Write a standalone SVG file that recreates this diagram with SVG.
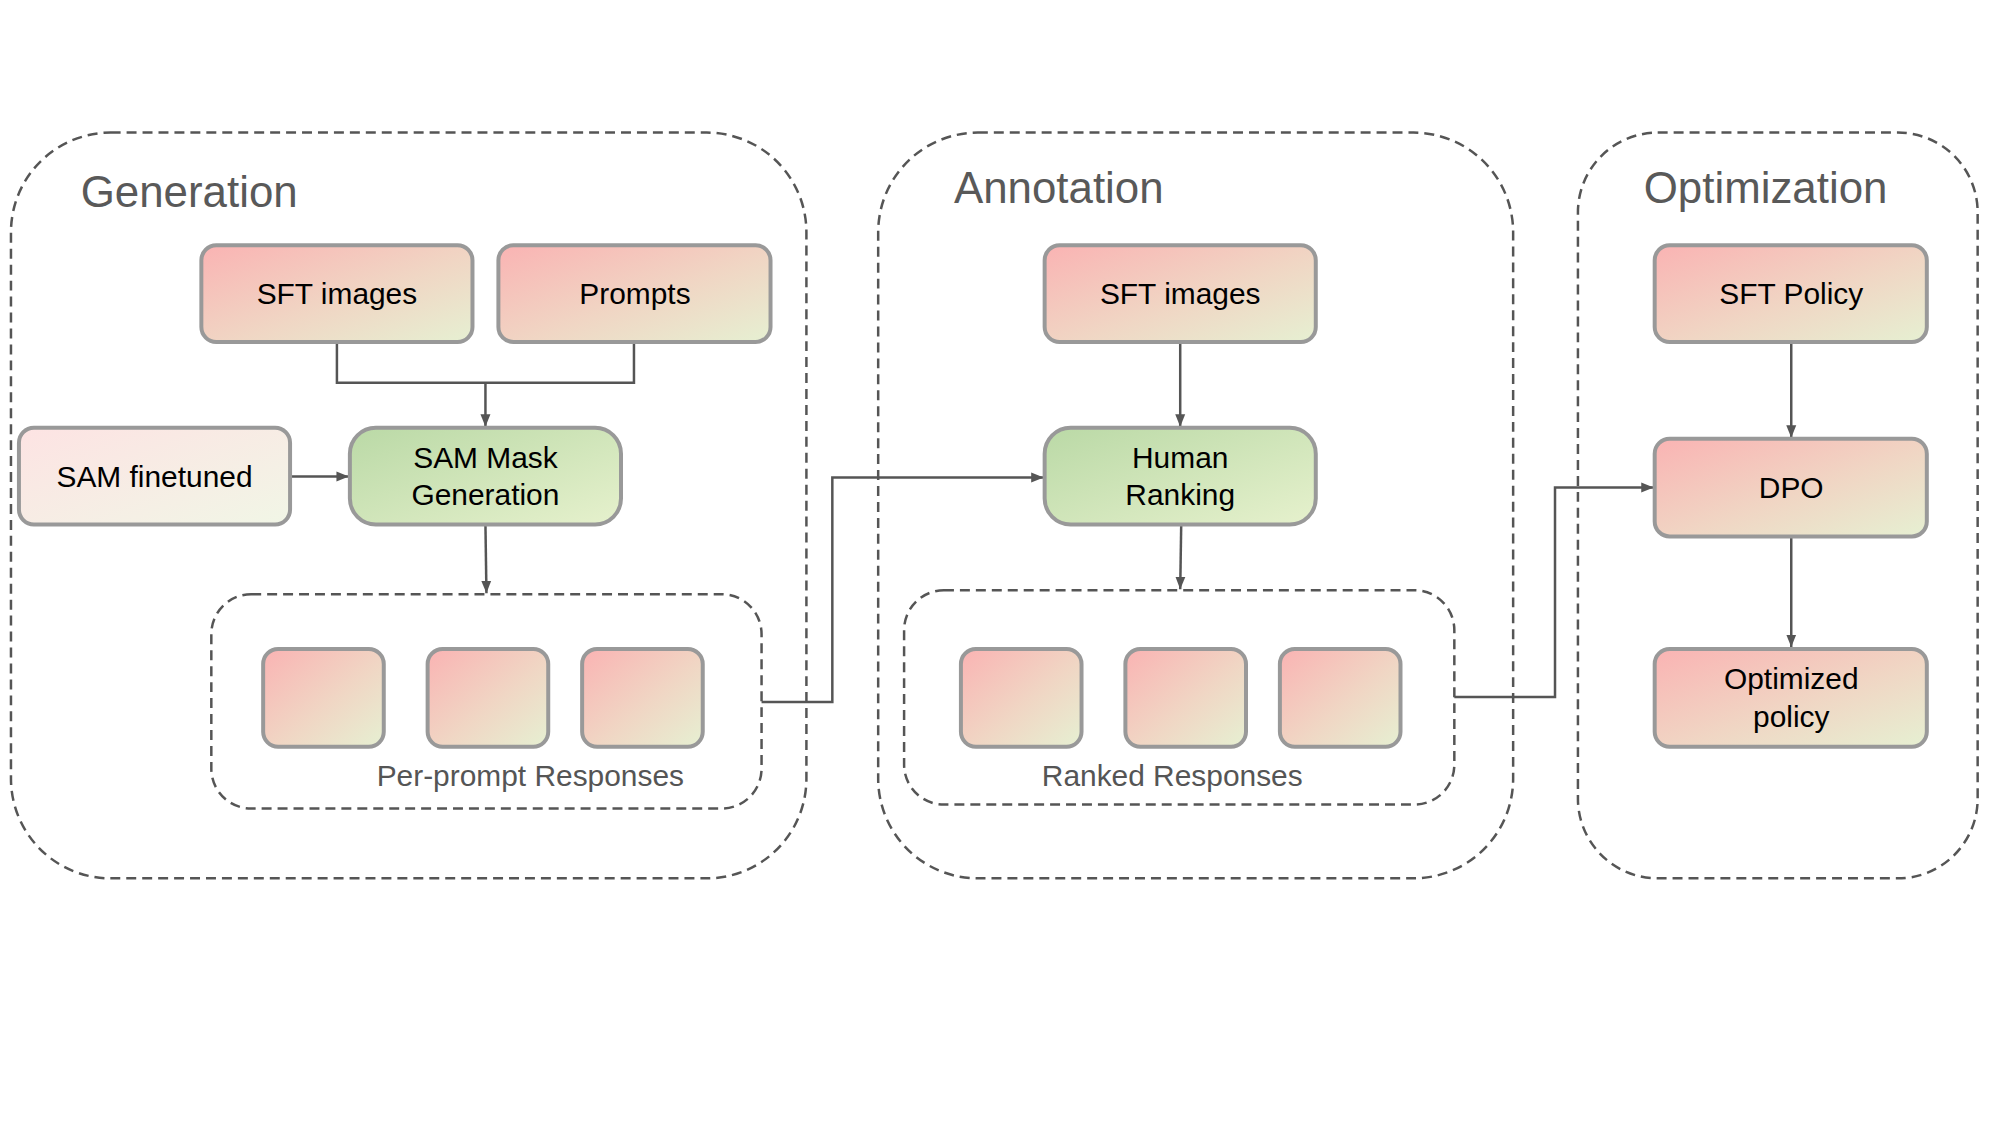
<svg xmlns="http://www.w3.org/2000/svg" width="2000" height="1125" viewBox="0 0 2000 1125">
<defs>
<linearGradient id="gPink" x1="0" y1="0" x2="1" y2="1">
<stop offset="0" stop-color="#FAB3B3"/><stop offset="0.55" stop-color="#F0D6C4"/><stop offset="1" stop-color="#E6F0D2"/>
</linearGradient>
<linearGradient id="gLight" x1="0" y1="0" x2="1" y2="1">
<stop offset="0" stop-color="#FDE3E3"/><stop offset="1" stop-color="#F1F6E6"/>
</linearGradient>
<linearGradient id="gGreen" x1="0" y1="0" x2="1" y2="1">
<stop offset="0" stop-color="#BAD9A6"/><stop offset="1" stop-color="#E6F1CD"/>
</linearGradient>
<marker id="arr" viewBox="0 0 10 10" refX="10" refY="5" markerWidth="5" markerHeight="5" orient="auto" markerUnits="strokeWidth">
<path d="M0,1 L10,5 L0,9 z" fill="#555"/>
</marker>
<style>
.grp{fill:none;stroke:#555;stroke-width:2.5;stroke-dasharray:10 6}
.node{stroke:#999;stroke-width:4}
.pink{fill:url(#gPink)}
.light{fill:url(#gLight)}
.green{fill:url(#gGreen)}
.lbl{font-family:"Liberation Sans",Arial,sans-serif;font-size:30px;fill:#000;text-anchor:middle}
.sub{font-family:"Liberation Sans",Arial,sans-serif;font-size:30px;fill:#555;text-anchor:middle}
.title{font-family:"Liberation Sans",Arial,sans-serif;font-size:44px;fill:#595959}
.edge{fill:none;stroke:#555;stroke-width:2.5}
</style>
</defs>
<rect width="2000" height="1125" fill="#fff"/>
<g transform="scale(0.9968 0.997)">
<g id="generation">
<rect class="grp" x="11" y="133" width="798" height="748" rx="100" ry="100"/>
<text class="title" x="81" y="208">Generation</text>
</g>
<g id="annotation">
<rect class="grp" x="881" y="133" width="637" height="748" rx="100" ry="100"/>
<text class="title" x="957" y="204">Annotation</text>
</g>
<g id="optimization">
<rect class="grp" x="1583" y="133" width="401" height="748" rx="80" ry="80"/>
<text class="title" x="1649" y="204">Optimization</text>
</g>

<g id="per-prompt-responses">
<rect class="grp" x="212" y="596" width="552" height="215" rx="40" ry="40"/>
<rect class="node pink" x="264" y="651" width="121" height="98" rx="15"/>
<rect class="node pink" x="429" y="651" width="121" height="98" rx="15"/>
<rect class="node pink" x="584" y="651" width="121" height="98" rx="15"/>
<text class="sub" x="532" y="788">Per-prompt Responses</text>
</g>
<g id="ranked-responses">
<rect class="grp" x="907" y="592" width="552" height="215" rx="40" ry="40"/>
<rect class="node pink" x="964" y="651" width="121" height="98" rx="15"/>
<rect class="node pink" x="1129" y="651" width="121" height="98" rx="15"/>
<rect class="node pink" x="1284" y="651" width="121" height="98" rx="15"/>
<text class="sub" x="1176" y="788">Ranked Responses</text>
</g>

<g id="connectors">
<path class="edge" d="M338,343 V384 H636 V343"/>
<path class="edge" d="M487,384 V428" marker-end="url(#arr)"/>
<path class="edge" d="M291,478 H350" marker-end="url(#arr)"/>
<path class="edge" d="M487,526 L488,595" marker-end="url(#arr)"/>
<path class="edge" d="M764,704 H835 V479 H1047" marker-end="url(#arr)"/>
<path class="edge" d="M1184,343 V428" marker-end="url(#arr)"/>
<path class="edge" d="M1185,526 L1184,591" marker-end="url(#arr)"/>
<path class="edge" d="M1459,699 H1560 V489 H1659" marker-end="url(#arr)"/>
<path class="edge" d="M1797,343 V439" marker-end="url(#arr)"/>
<path class="edge" d="M1797,538 V649" marker-end="url(#arr)"/>
</g>

<g id="gen-sft-images">
<rect class="node pink" x="202" y="246" width="272" height="97" rx="15"/>
<text class="lbl" x="338" y="305">SFT images</text>
</g>
<g id="prompts">
<rect class="node pink" x="500" y="246" width="273" height="97" rx="15"/>
<text class="lbl" x="637" y="305">Prompts</text>
</g>
<g id="sam-finetuned">
<rect class="node light" x="19" y="429" width="272" height="97" rx="15"/>
<text class="lbl" x="155" y="488">SAM finetuned</text>
</g>
<g id="sam-mask-generation">
<rect class="node green" x="351" y="429" width="272" height="97" rx="26"/>
<text class="lbl" x="487" y="469">SAM Mask</text>
<text class="lbl" x="487" y="507">Generation</text>
</g>
<g id="ann-sft-images">
<rect class="node pink" x="1048" y="246" width="272" height="97" rx="15"/>
<text class="lbl" x="1184" y="305">SFT images</text>
</g>
<g id="human-ranking">
<rect class="node green" x="1048" y="429" width="272" height="97" rx="26"/>
<text class="lbl" x="1184" y="469">Human</text>
<text class="lbl" x="1184" y="507">Ranking</text>
</g>
<g id="sft-policy">
<rect class="node pink" x="1660" y="246" width="273" height="97" rx="15"/>
<text class="lbl" x="1797" y="305">SFT Policy</text>
</g>
<g id="dpo">
<rect class="node pink" x="1660" y="440" width="273" height="98" rx="15"/>
<text class="lbl" x="1797" y="499">DPO</text>
</g>
<g id="optimized-policy">
<rect class="node pink" x="1660" y="651" width="273" height="98" rx="15"/>
<text class="lbl" x="1797" y="691">Optimized</text>
<text class="lbl" x="1797" y="729">policy</text>
</g>
</g>
</svg>
